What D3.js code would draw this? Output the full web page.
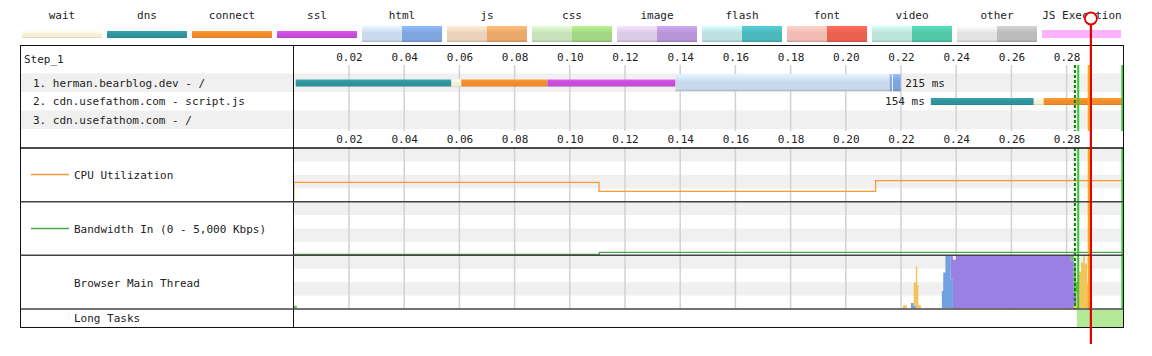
<!DOCTYPE html>
<html><head><meta charset="utf-8">
<script src="https://cdn.jsdelivr.net/npm/d3@7"></script>
<style>
html,body{margin:0;padding:0;background:#fff;}
svg{display:block;font-family:"DejaVu Sans Mono",monospace;font-size:11px;}
</style></head><body>
<svg id="chart" width="1152" height="356"></svg>
<script>
// ---------- data ----------
const legendNames = ["wait","dns","connect","ssl","html","js","css","image","flash","font","video","other","JS Execution"];
const legendLight = ["#f3f0d4","#2f939b","#f28b2c","#c94bd9","#cbd9ee","#ead2bb","#c8e3bc","#dacbe8","#bde0e0","#f2bbb3","#bde4da","#e2e2e2","#ffb3ff"];
const legendDark  = [null,null,null,null,"#7fa5df","#eaa86a","#a2d783","#b895d7","#4bb8bd","#ea6150","#51c7a7","#bbbbbb",null];

const tickValues = [0.02,0.04,0.06,0.08,0.10,0.12,0.14,0.16,0.18,0.20,0.22,0.24,0.26,0.28];

const stepLabel = "Step_1";
const requestLabels = ["1. herman.bearblog.dev - /","2. cdn.usefathom.com - script.js","3. cdn.usefathom.com - /"];
const requestDurations = ["215 ms","154 ms",""];
const durationSide = ["right","left",""];
const dnsTimes      = [[0.0007,0.0571],[0.2308,0.2681],null];
const waitTimes     = [[0.0571,0.0607],[0.2681,0.2717],null];
const connectTimes  = [[0.0607,0.0919],[0.2717,0.3100],null];
const sslTimes      = [[0.0919,0.1383],null,null];
const ttfbTimes     = [[0.1383,0.2159],null,null];
const downloadTimes = [[[0.2159,0.2167],[0.2171,0.2199]],[],[]];

const cpuTimes  = [0, 0, 0.1106, 0.2108, 0.3002];
const cpuValues = [0, 36, 19, 39, 39];

const bwTimes  = [0, 0.1107, 0.3002];
const bwValues = [60, 250, 250];

const mtTimes  = [0.0000,0.0011,0.2207,0.2221,0.2236,0.2246,0.2254,0.2259,0.2263,0.2272,0.2348,0.2353,0.2361,0.2380,0.2388,0.2399,0.2815,0.2826,0.2835,0.2842,0.2852,0.2860,0.2866,0.2874,0.2881,0.2891];
const mtParse  = [0,0,0,0,0.10,0.05,0,0,0,0,0.33,0.68,1.0,0.55,0,0,0,0,0,0,0,0,0,0,0.12,0];
const mtScript = [0,0,0.06,0,0,0.44,0.8,0.44,0.06,0,0,0,0,0,0,0,0,0.1,0.3,0.7,0.87,1.0,0.85,0.45,0,0];
const mtLayout = [0,0,0,0,0,0,0,0,0,0,0,0,0,0.45,0.92,1.0,0.9,0.2,0,0,0,0,0,0,0,0];
const mtPaint  = [0.05,0,0,0,0,0,0,0,0,0,0,0,0,0,0,0,0.1,0.5,0.2,0,0,0,0,0,0,0];
const mtColors = {parse:"#6fa0e0", script:"#f2c45c", layout:"#9a80e2", paint:"#78b85a"};

const longTasks = [[0.2837, 0.3100]];

const eventTimes  = [0.2830, 0.2842, 0.2880, 0.3002];
const eventColors = ["#0b7f0b","#2fcf2f","#ffaa00","#2fcf2f"];
const eventDash   = ["3,2",null,null,null];
const markerTime = 0.2888;

// ---------- layout ----------
const svg = d3.select("#chart");
const W = 1152;
const boxL = 20.5, boxR = 1123.5, boxT = 45.5, boxB = 327.5, divX = 293.5;
const x = d3.scaleLinear().domain([0, 0.3]).range([293.8, 1121.8]);
const rowTop = 73.5, rowH = 18.5;
const secs = [148, 201.7, 255.3, 309];

const defs = svg.append("defs");
defs.append("clipPath").attr("id","plotclip").append("rect")
  .attr("x", divX+0.5).attr("y", 40).attr("width", boxR-divX-1).attr("height", 300);

let gid = 0;
function grad(color){
  const id = "g" + (gid++);
  const c = d3.color(color);
  const lg = defs.append("linearGradient").attr("id",id).attr("x1",0).attr("y1",0).attr("x2",0).attr("y2",1);
  lg.append("stop").attr("offset","0%").attr("stop-color", c.brighter(0.35));
  lg.append("stop").attr("offset","45%").attr("stop-color", c);
  lg.append("stop").attr("offset","85%").attr("stop-color", c);
  lg.append("stop").attr("offset","100%").attr("stop-color", c.darker(0.5));
  return `url(#${id})`;
}

// ---------- legend ----------
legendNames.forEach((n,i)=>{
  const lx = 22 + 85*i;
  svg.append("text").attr("x", lx+40).attr("y", 19).attr("text-anchor","middle").attr("fill","#222").text(n);
  if (legendDark[i]) {
    svg.append("rect").attr("x",lx).attr("y",26).attr("width",40).attr("height",16).attr("fill",grad(legendLight[i]));
    svg.append("rect").attr("x",lx+40).attr("y",26).attr("width",40).attr("height",16).attr("fill",grad(legendDark[i]));
  } else if (i === legendNames.length-1) {
    svg.append("rect").attr("x",lx).attr("y",30).attr("width",79).attr("height",8).attr("fill",legendLight[i]);
  } else {
    svg.append("rect").attr("x",lx).attr("y",31).attr("width",80).attr("height",7).attr("fill",grad(legendLight[i]));
  }
});

// ---------- row backgrounds ----------
requestLabels.forEach((l,i)=>{
  if (i % 2 === 0) svg.append("rect").attr("x",boxL).attr("y",rowTop+i*rowH).attr("width",boxR-boxL).attr("height",rowH).attr("fill","#f0f0f0");
});
// lower section bands
for (let s=0; s<3; s++){
  const top = secs[s], h = (secs[s+1]-secs[s]);
  for (let b=0; b<4; b+=2){
    svg.append("rect").attr("x",divX).attr("y",top + b*h/4).attr("width",boxR-divX).attr("height",h/4).attr("fill","#f0f0f0");
  }
}

// ---------- gridlines ----------
const grid = svg.append("g").attr("stroke","#d2d2d2").attr("stroke-width",1.5);
tickValues.forEach(t=>{
  grid.append("line").attr("x1",x(t)).attr("x2",x(t)).attr("y1",65).attr("y2",131);
  grid.append("line").attr("x1",x(t)).attr("x2",x(t)).attr("y1",secs[0]).attr("y2",secs[3]);
});

// ---------- tick labels ----------
function tickAxis(yBase){
  const g = svg.append("g").attr("transform",`translate(0,${yBase})`)
    .call(d3.axisTop(x).tickValues(tickValues).tickFormat(d3.format(".2f")).tickSize(0));
  g.attr("font-family",null).attr("font-size",null);
  g.select(".domain").remove();
  g.selectAll("text").attr("y",0).attr("dy",null).attr("fill","#222");
}
tickAxis(60.5);
tickAxis(143);

// ---------- labels ----------
svg.append("text").attr("x",24).attr("y",63).attr("fill","#222").text(stepLabel);
requestLabels.forEach((l,i)=>{
  svg.append("text").attr("x",33).attr("y",rowTop+i*rowH+13).attr("fill","#222").text(l);
});

// ---------- waterfall bars ----------
const plot = svg.append("g").attr("clip-path","url(#plotclip)");
const gWait = grad(legendLight[0]), gDns = grad(legendLight[1]), gConn = grad(legendLight[2]), gSsl = grad(legendLight[3]);
const gTtfb = grad(legendLight[4]), gDl = grad(legendDark[4]);
function thin(span, i, fill){
  if (!span) return;
  plot.append("rect").attr("x",x(span[0])).attr("width",x(span[1])-x(span[0]))
    .attr("y",rowTop+i*rowH+6).attr("height",7).attr("fill",fill);
}
requestLabels.forEach((l,i)=>{
  thin(dnsTimes[i], i, gDns);
  thin(waitTimes[i], i, gWait);
  thin(connectTimes[i], i, gConn);
  thin(sslTimes[i], i, gSsl);
  if (ttfbTimes[i]) {
    plot.append("rect").attr("x",x(ttfbTimes[i][0])).attr("width",x(ttfbTimes[i][1])-x(ttfbTimes[i][0]))
      .attr("y",rowTop+i*rowH+0.7).attr("height",17).attr("fill",gTtfb);
  }
  downloadTimes[i].forEach(s=>{
    plot.append("rect").attr("x",x(s[0])).attr("width",x(s[1])-x(s[0]))
      .attr("y",rowTop+i*rowH+0.7).attr("height",17).attr("fill",gDl);
  });
  if (requestDurations[i]) {
    let ends = [dnsTimes[i],waitTimes[i],connectTimes[i],sslTimes[i],ttfbTimes[i]].filter(Boolean).map(s=>s);
    downloadTimes[i].forEach(s=>ends.push(s));
    const start = d3.min(ends, s=>s[0]), end = d3.max(ends, s=>s[1]);
    if (durationSide[i]==="right")
      svg.append("text").attr("x",x(end)+4.5).attr("y",rowTop+i*rowH+13).attr("fill","#222").text(requestDurations[i]);
    else
      svg.append("text").attr("x",x(start)-6).attr("y",rowTop+i*rowH+13).attr("text-anchor","end").attr("fill","#222").text(requestDurations[i]);
  }
});

// ---------- CPU ----------
const yCpu = d3.scaleLinear().domain([0,100]).range([secs[1]-0.3, secs[0]+0.3]);
plot.append("path").datum(cpuTimes.map((t,i)=>[t,cpuValues[i]]))
  .attr("d", d3.line().x(d=>x(d[0])).y(d=>yCpu(d[1])).curve(d3.curveStepAfter))
  .attr("fill","none").attr("stroke","#ff9933").attr("stroke-width",1.3);
svg.append("line").attr("x1",31).attr("x2",69).attr("y1",174.5).attr("y2",174.5).attr("stroke","#ff9933").attr("stroke-width",1.3);
svg.append("text").attr("x",74).attr("y",178.5).attr("fill","#222").text("CPU Utilization");

// ---------- Bandwidth ----------
const yBw = d3.scaleLinear().domain([0,5000]).range([secs[2]-0.3, secs[1]+0.3]);
plot.append("path").datum(bwTimes.map((t,i)=>[t,bwValues[i]]))
  .attr("d", d3.line().x(d=>x(d[0])).y(d=>yBw(d[1])).curve(d3.curveStepAfter))
  .attr("fill","none").attr("stroke","#4aa84a").attr("stroke-width",1.3);
svg.append("line").attr("x1",31).attr("x2",69).attr("y1",228.5).attr("y2",228.5).attr("stroke","#4aa84a").attr("stroke-width",1.3);
svg.append("text").attr("x",74).attr("y",232.5).attr("fill","#222").text("Bandwidth In (0 - 5,000 Kbps)");

// ---------- Main thread ----------
const yMt = d3.scaleLinear().domain([0,1]).range([secs[3]-0.7, secs[2]+0.3]);
const mtTable = mtTimes.map((t,i)=>({t, parse:mtParse[i], script:mtScript[i], layout:mtLayout[i], paint:mtPaint[i]}));
const stack = d3.stack().keys(["parse","script","layout","paint"]);
const mtArea = d3.area().x(d=>x(d.data.t)).y0(d=>yMt(d[0])).y1(d=>yMt(d[1])).curve(d3.curveStepAfter);
plot.selectAll(".mt").data(stack(mtTable)).join("path")
  .attr("d", mtArea).attr("fill", d=>mtColors[d.key]);
svg.append("text").attr("x",74).attr("y",286.5).attr("fill","#222").text("Browser Main Thread");

// ---------- Long tasks ----------
longTasks.forEach(s=>{
  plot.append("rect").attr("x",x(s[0])).attr("width",x(s[1])-x(s[0])).attr("y",secs[3]+0.5).attr("height",boxB-secs[3]-1).attr("fill","#b3e897");
});
svg.append("text").attr("x",74).attr("y",322).attr("fill","#222").text("Long Tasks");

// ---------- event lines ----------
eventTimes.forEach((t,i)=>{
  [[65,131],[secs[0],secs[3]]].forEach(r=>{
    plot.append("line").attr("x1",x(t)).attr("x2",x(t)).attr("y1",r[0]).attr("y2",r[1])
      .attr("stroke",eventColors[i]).attr("stroke-width",2).attr("stroke-dasharray",eventDash[i]);
  });
});

// ---------- borders ----------
svg.append("rect").attr("x",boxL).attr("y",boxT).attr("width",boxR-boxL).attr("height",boxB-boxT)
  .attr("fill","none").attr("stroke","#111").attr("stroke-width",1);
svg.append("line").attr("x1",divX).attr("x2",divX).attr("y1",boxT).attr("y2",boxB).attr("stroke","#111");
secs.forEach((y,i)=>{
  svg.append("line").attr("x1",boxL).attr("x2",boxR).attr("y1",y).attr("y2",y)
    .attr("stroke", i===0 ? "#111" : "#444").attr("stroke-width",1.5);
});

// ---------- marker ----------
svg.append("line").attr("x1",x(markerTime)).attr("x2",x(markerTime)).attr("y1",24).attr("y2",344)
  .attr("stroke","#e00000").attr("stroke-width",2.2);
svg.append("circle").attr("cx",x(markerTime)).attr("cy",18.5).attr("r",6)
  .attr("fill","#fff").attr("stroke","#e00000").attr("stroke-width",1.8);
</script>
</body></html>
